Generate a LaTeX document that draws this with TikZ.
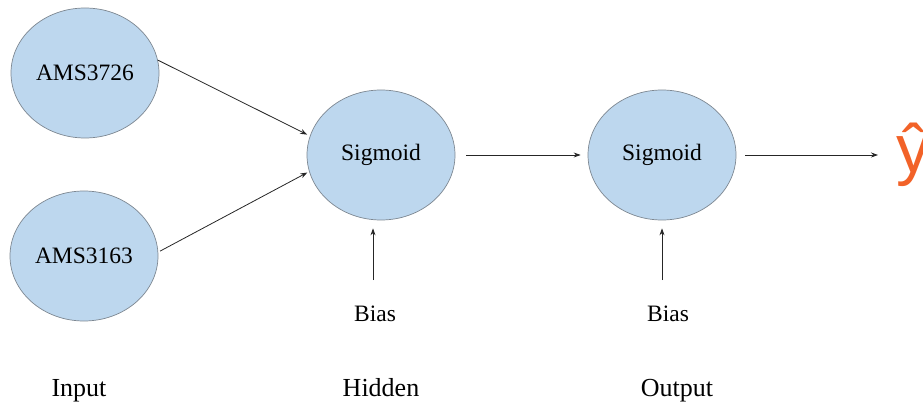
\documentclass[tikz,border=0pt]{standalone}
\usepackage{fontspec}
\setmainfont{Liberation Serif}
\newfontfamily\hatfont{Liberation Sans}
\usetikzlibrary{shapes.geometric,arrows.meta}
\definecolor{nodefill}{RGB}{189,215,238}
\definecolor{nodeline}{RGB}{125,135,145}
\definecolor{hatorange}{RGB}{242,98,40}
\tikzset{
  neuron/.style={ellipse, draw=nodeline, line width=0.7pt, fill=nodefill, inner sep=0pt,
    minimum width=148pt, minimum height=130pt, font=\fontsize{23.5}{26}\selectfont},
  arr/.style={draw=black!85, line width=0.8pt, -{Stealth[length=7pt,width=5pt]}},
  lbl/.style={inner sep=0pt, font=\fontsize{26}{30}\selectfont},
  biaslbl/.style={inner sep=0pt, font=\fontsize{23.5}{26}\selectfont}
}
\begin{document}
\begin{tikzpicture}[x=1pt,y=-1pt]
\useasboundingbox (0,0) rectangle (923,403);
\node[neuron] (in1) at (85,73) {AMS3726};
\node[neuron] (in2) at (84,256) {AMS3163};
\node[neuron] (hid) at (381,155) {Sigmoid};
\node[neuron] (out) at (662,155) {Sigmoid};
\node[anchor=base west, inner sep=0pt, text=hatorange, font=\hatfont\fontsize{68}{70}\selectfont] (yhat) at (896,173) {ŷ};
\node[biaslbl, anchor=base] (b1) at (375,321) {Bias};
\node[biaslbl, anchor=base] (b2) at (668,321) {Bias};
\node[lbl, anchor=base] (linput) at (79,396) {Input};
\node[lbl, anchor=base] (lhidden) at (381,396) {Hidden};
\node[lbl, anchor=base] (loutput) at (677,396) {Output};
\draw[arr, shorten >=3pt] (in1.10) -- (hid.165);
\draw[arr, shorten <=2pt, shorten >=2pt] (in2.3) -- (hid.193);
\draw[arr, shorten <=11pt, shorten >=7pt] (hid.east) -- (out.west);
\draw[arr, shorten <=9pt, shorten >=18pt] (out.east) -- (out.east -| yhat.west);
\draw[arr, shorten <=25pt, shorten >=8pt] ([xshift=-2pt]b1.north) -- ([xshift=-2pt]b1.north |- hid.south);
\draw[arr, shorten <=25pt, shorten >=8pt] ([xshift=-6pt]b2.north) -- ([xshift=-6pt]b2.north |- out.south);
\end{tikzpicture}
\end{document}
